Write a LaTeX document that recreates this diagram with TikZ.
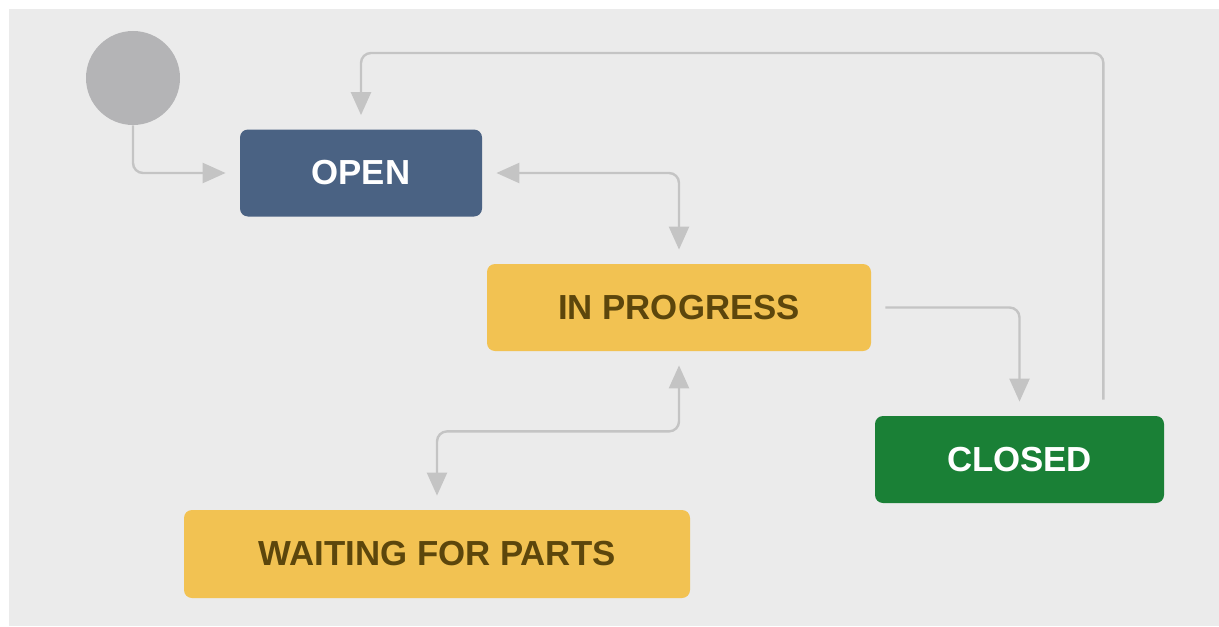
\documentclass[tikz,border=0pt]{standalone}
\usepackage{fontspec}
\usepackage{tikz}
\usetikzlibrary{positioning,arrows.meta,calc}
\newfontfamily\statefont{Liberation Sans}
\definecolor{bggray}{RGB}{235,235,235}
\definecolor{linegray}{RGB}{196,196,196}
\definecolor{startgray}{RGB}{180,180,182}
\definecolor{openblue}{RGB}{74,98,131}
\definecolor{progyellow}{RGB}{242,194,82}
\definecolor{closedgreen}{RGB}{26,128,54}
\definecolor{yellowtext}{RGB}{92,70,12}
\tikzset{
    state/.style={rectangle, rounded corners=4pt, minimum height=43.5pt, inner sep=0pt, font=\statefont\bfseries\fontsize{17.4}{20}\selectfont, fill=#1},
    state/.default={progyellow},
    flow/.style={draw=linegray, line width=1.2pt, rounded corners=5pt, shorten >=7pt, -{Triangle[length=11.5pt, width=10pt, color=linegray]}},
    twoway/.style={flow, shorten <=7pt, {Triangle[length=11.5pt, width=10pt, color=linegray]}-{Triangle[length=11.5pt, width=10pt, color=linegray]}}
}

\begin{document}
\begin{tikzpicture}[x=0.5pt, y=-0.5pt]
    \useasboundingbox (0,0) rectangle (1219,626);
    \fill[bggray] (9,9) rectangle (1219,626);
    \node[circle, fill=startgray, minimum size=47pt, inner sep=0pt](start) at (133,78){};
    \node[state=openblue, text=white, minimum width=121pt](open) at (361,173){OPEN};
    \node[state, text=yellowtext, minimum width=192pt](prog) at (679,307.5){IN PROGRESS};
    \node[state=closedgreen, text=white, minimum width=144.5pt](closed) at (1019.5,459.5){CLOSED};
    \node[state, text=yellowtext, minimum width=253pt, minimum height=44pt](wait) at (437,554){WAITING FOR PARTS};
    \coordinate (looptop) at (361,53);
    \draw[flow](start.south) |- (open.west);
    \draw[flow, shorten <=8pt]([xshift=-30.5pt]closed.north east) |- (looptop) -- (open.north);
    \draw[twoway](open.east) -| (prog.north);
    \draw[flow, shorten <=7pt](prog.east) -| (closed.north);
    \draw[twoway](prog.south) -- ++(0,80) -| (wait.north);
\end{tikzpicture}
\end{document}
